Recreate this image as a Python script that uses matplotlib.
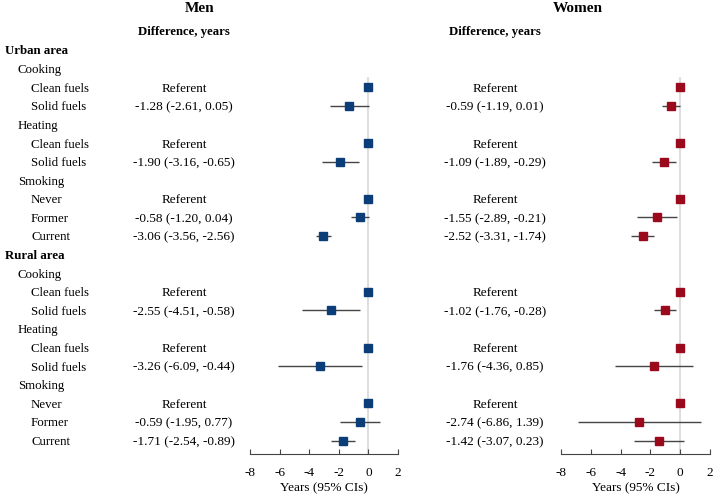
import numpy as np
import matplotlib.pyplot as plt
import matplotlib.transforms as mtransforms

plt.rcParams['font.family'] = ['Liberation Serif', 'DejaVu Serif']
plt.rcParams['axes.unicode_minus'] = False

# rows of the forest plot, top to bottom
row_labels = ["Urban area", "Cooking", "Clean fuels", "Solid fuels", "Heating", "Clean fuels",
              "Solid fuels", "Smoking", "Never", "Former", "Current",
              "Rural area", "Cooking", "Clean fuels", "Solid fuels", "Heating", "Clean fuels",
              "Solid fuels", "Smoking", "Never", "Former", "Current"]
row_levels = [0, 1, 2, 2, 1, 2, 2, 1, 2, 2, 2,
              0, 1, 2, 2, 1, 2, 2, 1, 2, 2, 2]

nan = np.nan
men_est = [nan, nan, 0, -1.28, nan, 0, -1.90, nan, 0, -0.58, -3.06,
           nan, nan, 0, -2.55, nan, 0, -3.26, nan, 0, -0.59, -1.71]
men_lo = [nan, nan, nan, -2.61, nan, nan, -3.16, nan, nan, -1.20, -3.56,
          nan, nan, nan, -4.51, nan, nan, -6.09, nan, nan, -1.95, -2.54]
men_hi = [nan, nan, nan, 0.05, nan, nan, -0.65, nan, nan, 0.04, -2.56,
          nan, nan, nan, -0.58, nan, nan, -0.44, nan, nan, 0.77, -0.89]

women_est = [nan, nan, 0, -0.59, nan, 0, -1.09, nan, 0, -1.55, -2.52,
             nan, nan, 0, -1.02, nan, 0, -1.76, nan, 0, -2.74, -1.42]
women_lo = [nan, nan, nan, -1.19, nan, nan, -1.89, nan, nan, -2.89, -3.31,
            nan, nan, nan, -1.76, nan, nan, -4.36, nan, nan, -6.86, -3.07]
women_hi = [nan, nan, nan, 0.01, nan, nan, -0.29, nan, nan, -0.21, -1.74,
            nan, nan, nan, -0.28, nan, nan, 0.85, nan, nan, 1.39, 0.23]

x_ticks = [-8, -6, -4, -2, 0, 2]

W, H = 714, 496
fig = plt.figure(figsize=(W / 100, H / 100), dpi=100)

# pixel layout helpers
row_y0, row_dy = 50, 18.6
top_px, bottom_px = 40, 454
y_top = (top_px - row_y0) / row_dy
y_bot = (bottom_px - row_y0) / row_dy


def add_panel(left_px, right_px, est, lo, hi, color, text_x_px, title, title_x_px):
    ax = fig.add_axes([left_px / W, 1 - bottom_px / H, (right_px - left_px) / W,
                       (bottom_px - top_px) / H])
    rows = np.arange(len(est))
    est = np.array(est)
    lo = np.array(lo)
    hi = np.array(hi)

    ax.vlines(0, 1.45, y_bot, color='#dedede', lw=1.5, zorder=0)
    ax.hlines(rows, lo, hi, color='#444444', lw=1, zorder=1)
    ax.plot(est, rows, 's', color=color, markersize=5.5, zorder=2, linestyle='none')

    ax.set_xlim(-8, 2)
    ax.set_ylim(y_bot, y_top)
    ax.set_xticks(x_ticks)
    ax.set_yticks([])
    for s in ['top', 'right', 'left']:
        ax.spines[s].set_visible(False)
    ax.spines['bottom'].set_color('#444444')
    ax.tick_params(axis='x', direction='in', length=3.6, color='#444444',
                   labelsize=9.5, pad=9)
    ax.set_xlabel('Years (95% CIs)', fontsize=9.5, labelpad=3)
    ax.patch.set_alpha(0)

    trans = mtransforms.blended_transform_factory(fig.transFigure, ax.transData)
    for r in rows:
        if np.isnan(est[r]):
            continue
        if np.isnan(lo[r]):
            txt = "Referent"
        else:
            txt = f"{est[r]:.2f} ({lo[r]:.2f}, {hi[r]:.2f})"
        ax.text(text_x_px / W, r, txt, transform=trans, ha='center', va='center_baseline',
                fontsize=9.5, clip_on=False)

    fig.text(title_x_px / W, 1 - 9 / H, title, ha='center', va='center',
             fontsize=11, fontweight='bold')
    fig.text(text_x_px / W, 1 - 32 / H, 'Difference, years', ha='center', va='center',
             fontsize=9.2, fontweight='bold')
    return ax, trans


ax_m, trans_m = add_panel(250, 398, men_est, men_lo, men_hi, '#0b3d78', 184, 'Men', 200)
ax_w, trans_w = add_panel(561, 710, women_est, women_lo, women_hi, '#9a0a1c', 495, 'Women', 578)

indent = {0: 5, 1: 18, 2: 31}
for r, (lab, lev) in enumerate(zip(row_labels, row_levels)):
    ax_m.text(indent[lev] / W, r, lab, transform=trans_m, ha='left', va='center_baseline',
              fontsize=9.3, fontweight='bold' if lev == 0 else 'normal', clip_on=False)

fig.savefig('out.png', dpi=100)
